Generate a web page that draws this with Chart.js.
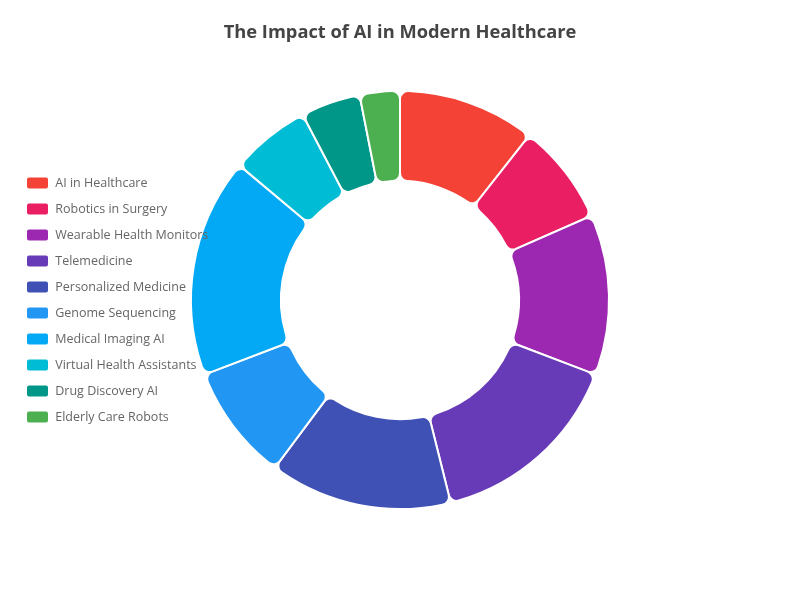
<!DOCTYPE html>
<html>
<head>
<meta charset="utf-8">
<script src="https://cdn.jsdelivr.net/npm/chart.js@4"></script>
<style>
html,body{margin:0;padding:0;background:#fff;}
#wrap{width:800px;height:600px;}
</style>
</head>
<body>
<div id="wrap"><canvas id="c" width="800" height="600"></canvas></div>
<script>
const categories = ["AI in Healthcare","Robotics in Surgery","Wearable Health Monitors","Telemedicine","Personalized Medicine","Genome Sequencing","Medical Imaging AI","Virtual Health Assistants","Drug Discovery AI","Elderly Care Robots"];
const impactValues = [10.6, 7.8, 12.4, 15.3, 14.1, 9.0, 16.9, 6.2, 4.6, 3.1];
const sliceColors = ["#F44336","#E91E63","#9C27B0","#673AB7","#3F51B5","#2196F3","#03A9F4","#00BCD4","#009688","#4CAF50"];
const chartTitle = "The Impact of AI in Modern Healthcare";

const legendOnTop = {
  id: 'legendOnTop',
  afterInit(chart) {
    const lg = chart.legend;
    if (lg) {
      lg._layers = function () { return [{ z: 1, draw: (ca) => lg.draw(ca) }]; };
    }
  },
  afterLayout(chart) {
    const lg = chart.legend;
    if (lg) {
      const h = lg.bottom - lg.top;
      lg.top = chart.chartArea.top;
      lg.bottom = lg.top + h;
    }
  }
};

new Chart(document.getElementById('c'), {
  type: 'doughnut',
  data: {
    labels: categories,
    datasets: [{
      data: impactValues,
      backgroundColor: sliceColors,
      borderColor: '#ffffff',
      borderWidth: 2,
      borderRadius: 8,
      hoverOffset: 0
    }]
  },
  plugins: [legendOnTop],
  options: {
    responsive: false,
    animation: false,
    cutout: '57%',
    layout: { padding: { left: 13, right: 13, bottom: 90 } },
    plugins: {
      title: {
        display: true,
        text: chartTitle,
        color: '#444',
        font: { family: 'Open Sans', size: 18.3, weight: 'bold' },
        padding: { top: 22, bottom: 46 }
      },
      legend: {
        position: 'chartArea',
        labels: {
          color: '#666',
          font: { family: 'Open Sans', size: 12.5 },
          boxWidth: 23,
          boxHeight: 13,
          padding: 13,
          useBorderRadius: true,
          borderRadius: 3
        }
      },
      tooltip: { enabled: false }
    }
  }
});
</script>
</body>
</html>
